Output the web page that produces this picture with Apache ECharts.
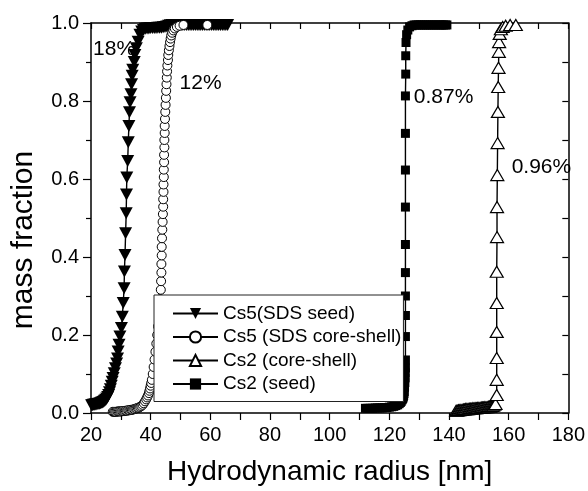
<!DOCTYPE html>
<html>
<head>
<meta charset="utf-8">
<script src="https://cdn.jsdelivr.net/npm/echarts@6/dist/echarts.min.js"></script>
<style>
html,body{margin:0;padding:0;background:#fff;}
#chart{width:588px;height:491px;}
</style>
</head>
<body>
<div id="chart"></div>
<script>
// ---- data (x = hydrodynamic radius [nm], y = mass fraction) ----
const seriesNames = ['Cs5(SDS seed)', 'Cs5 (SDS core-shell)', 'Cs2 (core-shell)', 'Cs2 (seed)'];

const cs5Seed = [
  [20.2,0.02],[20.5,0.02],[20.8,0.021],[21.1,0.021],[21.4,0.022],[21.7,0.022],[22,0.023],[22.3,0.023],
  [22.6,0.024],[22.9,0.024],[23.2,0.025],[23.5,0.026],[23.8,0.027],[24.1,0.028],[24.4,0.03],[24.7,0.032],
  [25,0.034],[25.3,0.037],[25.6,0.041],[25.9,0.046],[26.2,0.053],[26.5,0.061],[26.8,0.07],[27.1,0.08],
  [27.4,0.09],[27.8,0.102],[28.2,0.115],[28.6,0.127],[28.9,0.14],
  [29.1,0.158],[29.4,0.175],[29.7,0.196],[30.2,0.218],[30.5,0.247],[30.8,0.282],[31.1,0.32],[31.2,0.363],
  [31.4,0.405],[31.6,0.461],[31.8,0.512],[31.9,0.56],[32.0,0.604],[32.3,0.646],[32.5,0.694],[32.7,0.736],
  [32.9,0.771],[33.1,0.797],[33.4,0.817],[33.6,0.843],[33.8,0.865],[34.0,0.88],[34.5,0.90],[34.7,0.918],
  [35.2,0.935],[35.8,0.952],[36.4,0.97],[37.0,0.978],[37.6,0.982],[38.2,0.985],[38.8,0.986],[39.4,0.986],
  [40.0,0.987],[40.6,0.987],[41.2,0.987],[41.8,0.987],[42.4,0.988],[43.0,0.988],[43.6,0.988],[44.2,0.989],
  [44.8,0.99],[45.4,0.991],[46.0,0.993],[46.6,0.994],[47.2,0.995],[47.8,0.995],[48.4,0.995],[49.0,0.995],
  [49.6,0.995],[50.2,0.995],[50.8,0.995],[51.4,0.995],[52.0,0.995],[52.6,0.995],[53.2,0.995],[53.8,0.995],
  [54.4,0.995],[55.0,0.995],[55.6,0.995],[56.2,0.995],[56.8,0.995],[57.4,0.995],[58.0,0.995],[58.6,0.995],
  [59.2,0.995],[59.8,0.995],[60.4,0.995],[61.0,0.995],[61.6,0.995],[62.2,0.995],[62.8,0.995],[63.4,0.995],
  [64.0,0.995],[64.6,0.995],[65.2,0.995],[65.8,0.995]
];

const cs5CoreShell = [
  [27.3,0.003],[27.7,0.003],[28.1,0.003],[28.5,0.003],[28.9,0.004],[29.3,0.004],[29.7,0.004],[30.1,0.004],
  [30.5,0.005],[30.9,0.005],[31.3,0.005],[31.7,0.006],[32.1,0.006],[32.5,0.007],[32.9,0.007],[33.3,0.008],
  [33.7,0.008],[34.1,0.009],[34.5,0.01],[34.9,0.011],[35.3,0.012],[35.7,0.013],[36.1,0.014],[36.5,0.016],
  [36.9,0.018],[37.3,0.021],[37.7,0.025],[38.1,0.03],[38.5,0.035],[38.8,0.04],[39.1,0.045],[39.4,0.051],
  [39.6,0.057],[39.8,0.063],[40.0,0.07],[40.2,0.077],[40.4,0.085],[40.7,0.1],[41.0,0.118],[41.3,0.137],
  [41.6,0.157],[41.9,0.178],[42.2,0.2],
  [42.5,0.222],[42.8,0.245],[43.0,0.268],[43.2,0.292],[43.4,0.316],[43.5,0.338],[43.6,0.36],[43.6,0.382],
  [43.7,0.404],[43.7,0.426],[43.8,0.448],[43.9,0.47],[44.0,0.49],[44.1,0.51],[44.2,0.529],[44.2,0.548],
  [44.3,0.567],[44.3,0.586],[44.4,0.605],[44.4,0.624],[44.5,0.643],[44.5,0.662],[44.6,0.681],[44.6,0.7],
  [44.7,0.718],[44.7,0.736],[44.8,0.754],[44.9,0.772],[45.0,0.79],[45.1,0.808],[45.2,0.826],[45.3,0.843],
  [45.4,0.86],[45.5,0.876],[45.6,0.891],[45.8,0.905],[45.9,0.918],[46.1,0.93],[46.3,0.941],[46.5,0.951],
  [46.7,0.96],[46.9,0.968],[47.2,0.975],[47.6,0.981],[48.1,0.986],[48.8,0.99],[49.7,0.993],[51,0.995],
  [59,0.995]
];

const cs2CoreShell = [
  [142.4,0.006],[142.8,0.006],[143.2,0.007],[143.6,0.007],[144.0,0.008],[144.4,0.008],[144.8,0.009],
  [145.2,0.009],[145.6,0.01],[146.0,0.01],[146.4,0.01],[146.8,0.011],[147.2,0.011],[147.6,0.011],
  [148.0,0.012],[148.4,0.012],[148.8,0.012],[149.2,0.012],[149.6,0.013],[150.0,0.013],[150.4,0.013],
  [150.8,0.014],[151.2,0.014],[151.6,0.014],[152.0,0.015],[152.4,0.015],[152.8,0.015],[153.2,0.016],
  [153.6,0.016],[154.0,0.017],[154.4,0.018],[154.8,0.019],[155.2,0.021],[155.6,0.023],
  [156.0,0.046],[156.0,0.085],[156.0,0.141],[156.0,0.208],[156.0,0.282],[156.0,0.362],[156.1,0.451],
  [156.1,0.528],[156.2,0.61],[156.3,0.692],[156.4,0.772],[156.5,0.836],[156.6,0.885],[156.7,0.926],
  [156.8,0.951],[157,0.972],[157.4,0.984],[158,0.99],[159,0.993],[160.5,0.995],[162.4,0.995]
];

const cs2Seed = [
  [112,0.012],[112.8,0.012],[113.6,0.012],[114.4,0.012],[115.2,0.013],[116,0.013],[116.8,0.013],
  [117.6,0.013],[118.4,0.014],[119.2,0.014],[120,0.015],[120.8,0.016],[121.5,0.017],[122.2,0.019],
  [122.8,0.021],[123.3,0.024],[123.7,0.027],[124,0.03],[124.3,0.034],[124.5,0.037],[124.7,0.041],
  [124.8,0.045],[124.9,0.05],[125,0.055],[125.1,0.066],[125.2,0.078],[125.3,0.09],[125.3,0.103],
  [125.4,0.115],[125.4,0.136],
  [125.4,0.196],[125.4,0.25],[125.4,0.30],[125.4,0.36],[125.4,0.432],[125.4,0.528],[125.4,0.623],
  [125.4,0.717],[125.4,0.813],[125.5,0.869],[125.5,0.916],[125.6,0.95],[125.8,0.97],[126.2,0.982],
  [126.8,0.99],[127.6,0.993],[128.3,0.995],[129,0.995],[129.7,0.995],[130.4,0.995],[131.1,0.995],
  [131.8,0.995],[132.5,0.995],[133.2,0.995],[133.9,0.995],[134.6,0.995],[135.3,0.995],[136,0.995],
  [136.7,0.995],[137.4,0.995],[138.1,0.995],[138.8,0.995],[139.3,0.995]
];

// annotation texts with their anchor (left edge, vertical centre) in data units
const annotations = [
  { text: '18%',   at: [20.7, 0.932], series: 0 },
  { text: '12%',   at: [49.7, 0.846], series: 1 },
  { text: '0.96%', at: [161.0, 0.631], series: 2 },
  { text: '0.87%', at: [128.2, 0.81],  series: 3 }
];

const xTicks = { min: 20, max: 180, step: 20 };
const yTicks = { min: 0, max: 1, step: 0.2 };

// ---- chart ----
const FONT = 'Liberation Sans, Arial, sans-serif';
const downTri = 'path://M0,0 L12,0 L6,11 Z';

function annFor(i) {
  const list = annotations.filter(a => a.series === i);
  if (!list.length) return undefined;
  return {
    symbol: 'circle', symbolSize: 0, silent: true, animation: false,
    label: {
      show: true, position: 'inside', align: 'left', verticalAlign: 'middle',
      color: '#000', fontFamily: FONT, fontSize: 21,
      formatter: p => p.name
    },
    data: list.map(a => ({ name: a.text, coord: a.at }))
  };
}

const baseSeries = {
  type: 'line', xAxisIndex: 0, yAxisIndex: 0, showAllSymbol: true,
  animation: false, lineStyle: { color: '#000', width: 1.4 }, z: 2
};

const chart = echarts.init(document.getElementById('chart'), null, { renderer: 'canvas' });
chart.setOption({
  backgroundColor: '#fff',
  animation: false,
  grid: { left: 91, right: 18, top: 23, bottom: 78 },
  legend: {
    orient: 'vertical', left: 154, top: 295,
    padding: [9, 2, 8, 18], itemGap: 4.5, itemWidth: 45, itemHeight: 14,
    backgroundColor: '#fff', borderColor: '#222', borderWidth: 1,
    textStyle: { color: '#000', fontFamily: FONT, fontSize: 19 },
    data: seriesNames
  },
  xAxis: [
    {
      type: 'value', min: xTicks.min, max: xTicks.max, interval: xTicks.step, position: 'bottom',
      name: 'Hydrodynamic radius [nm]', nameLocation: 'middle', nameGap: 45,
      nameTextStyle: { color: '#000', fontFamily: FONT, fontSize: 28 },
      axisLine: { show: true, onZero: false, lineStyle: { color: '#000', width: 1.5 } },
      axisTick: { show: true, inside: false, length: 7, lineStyle: { color: '#000', width: 1.2 } },
      minorTick: { show: true, splitNumber: 2, length: 7, lineStyle: { color: '#000', width: 1.2 } },
      axisLabel: { color: '#000', fontFamily: FONT, fontSize: 20, margin: 12 },
      splitLine: { show: false }
    },
    {
      type: 'value', min: xTicks.min, max: xTicks.max, interval: xTicks.step, position: 'top',
      axisLine: { show: true, onZero: false, lineStyle: { color: '#000', width: 1.5 } },
      axisTick: { show: true, inside: true, length: 6, lineStyle: { color: '#000', width: 1.2 } },
      minorTick: { show: true, splitNumber: 2, length: 6, lineStyle: { color: '#000', width: 1.2 } },
      axisLabel: { show: false }, splitLine: { show: false }
    }
  ],
  yAxis: [
    {
      type: 'value', min: yTicks.min, max: yTicks.max, interval: yTicks.step, position: 'left',
      name: 'mass fraction', nameLocation: 'middle', nameGap: 52, nameRotate: 90,
      nameTextStyle: { color: '#000', fontFamily: FONT, fontSize: 30, padding: [0, 44, 0, 0] },
      axisLine: { show: true, onZero: false, lineStyle: { color: '#000', width: 1.5 } },
      axisTick: { show: true, inside: false, length: 8, lineStyle: { color: '#000', width: 1.2 } },
      minorTick: { show: true, splitNumber: 2, length: 5, lineStyle: { color: '#000', width: 1.2 } },
      axisLabel: { color: '#000', fontFamily: FONT, fontSize: 20, margin: 12, formatter: v => v.toFixed(1) },
      splitLine: { show: false }
    },
    {
      type: 'value', min: yTicks.min, max: yTicks.max, interval: yTicks.step, position: 'right',
      axisLine: { show: true, onZero: false, lineStyle: { color: '#000', width: 1.5 } },
      axisTick: { show: true, inside: true, length: 6, lineStyle: { color: '#000', width: 1.2 } },
      minorTick: { show: true, splitNumber: 2, length: 6, lineStyle: { color: '#000', width: 1.2 } },
      axisLabel: { show: false }, splitLine: { show: false }
    }
  ],
  series: [
    Object.assign({}, baseSeries, {
      name: seriesNames[0], data: cs5Seed,
      symbol: downTri, symbolSize: [13, 12],
      itemStyle: { color: '#000', borderColor: '#000', borderWidth: 0 },
      markPoint: annFor(0)
    }),
    Object.assign({}, baseSeries, {
      name: seriesNames[1], data: cs5CoreShell,
      symbol: 'circle', symbolSize: 9,
      itemStyle: { color: '#fff', borderColor: '#000', borderWidth: 1 },
      markPoint: annFor(1)
    }),
    Object.assign({}, baseSeries, {
      name: seriesNames[2], data: cs2CoreShell,
      symbol: 'triangle', symbolSize: [13, 11],
      itemStyle: { color: '#fff', borderColor: '#000', borderWidth: 1.2 },
      markPoint: annFor(2)
    }),
    Object.assign({}, baseSeries, {
      name: seriesNames[3], data: cs2Seed,
      symbol: 'rect', symbolSize: 9,
      itemStyle: { color: '#000', borderColor: '#000', borderWidth: 0 },
      markPoint: annFor(3)
    })
  ]
});
</script>
</body>
</html>
